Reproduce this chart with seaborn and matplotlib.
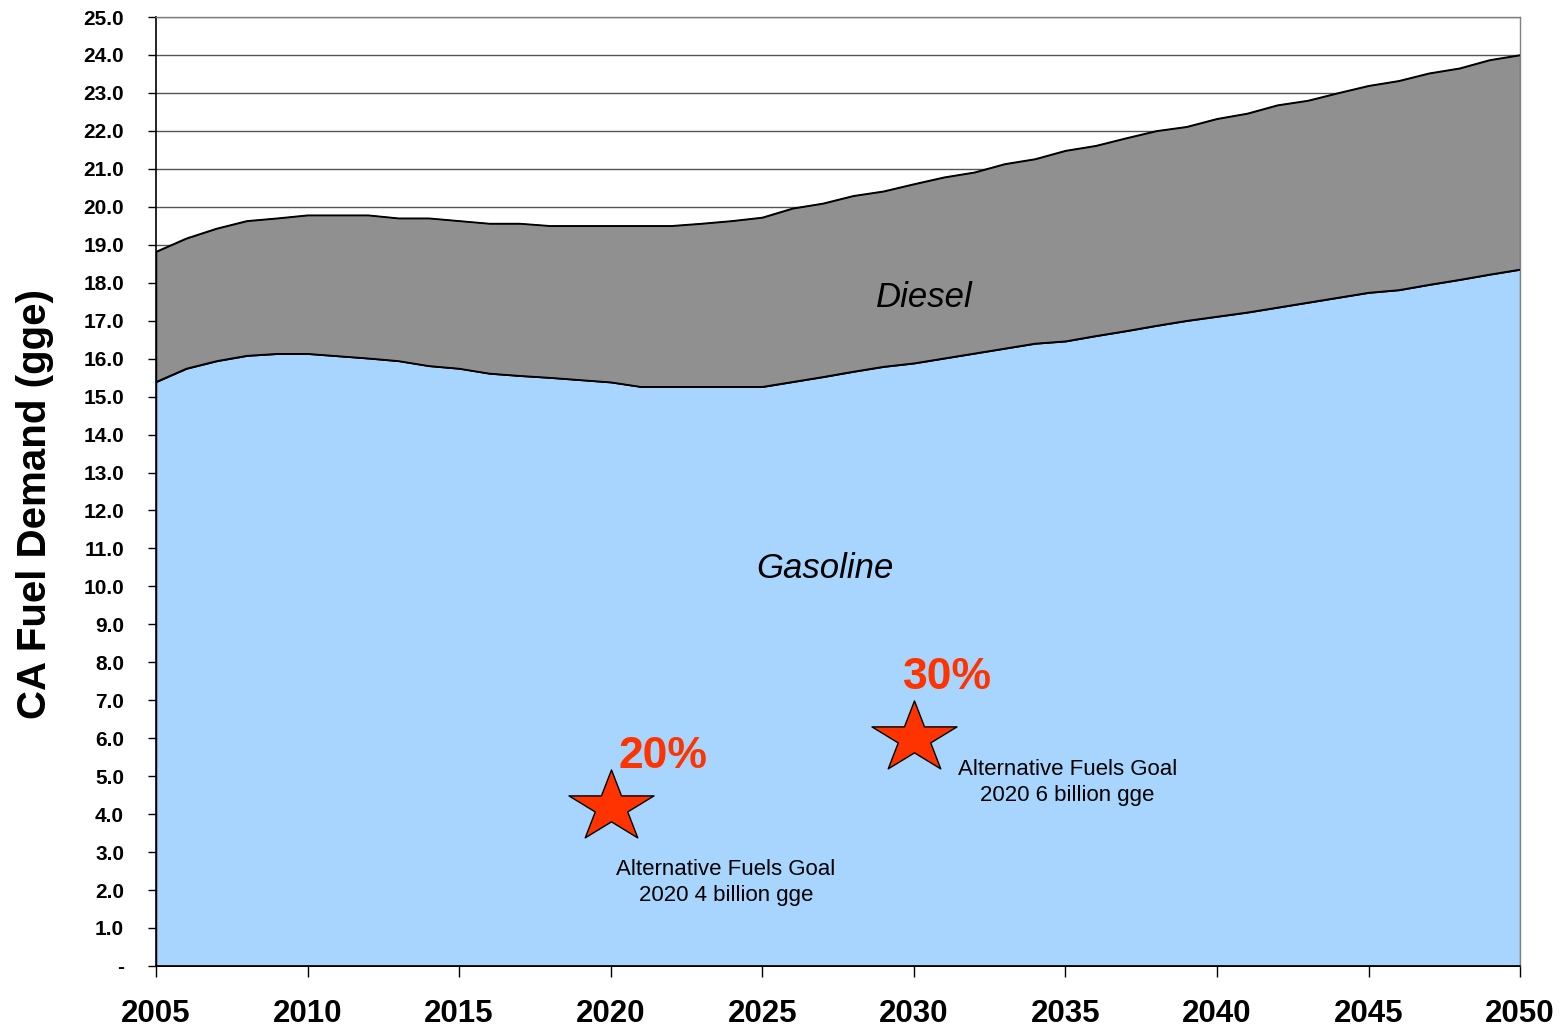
import matplotlib
matplotlib.use("Agg")
import numpy as np
import pandas as pd
import matplotlib.pyplot as plt
import seaborn as sns
from matplotlib.path import Path
from matplotlib.ticker import FuncFormatter, MultipleLocator

# Values (billion gge per year)
years = list(range(2005, 2051))
gasoline = [15.39, 15.74, 15.94, 16.08, 16.13, 16.13, 16.07, 16.01, 15.94, 15.81,
            15.74, 15.61, 15.55, 15.50, 15.44, 15.38, 15.26, 15.26, 15.26, 15.26,
            15.26, 15.39, 15.52, 15.66, 15.79, 15.88, 16.01, 16.14, 16.27, 16.40,
            16.46, 16.60, 16.73, 16.87, 17.00, 17.11, 17.22, 17.35, 17.48, 17.61,
            17.74, 17.81, 17.95, 18.08, 18.22, 18.35]
diesel = [3.43, 3.43, 3.49, 3.55, 3.57, 3.65, 3.71, 3.77, 3.76, 3.89,
          3.89, 3.95, 4.01, 4.00, 4.06, 4.12, 4.24, 4.24, 4.30, 4.37,
          4.46, 4.57, 4.57, 4.63, 4.62, 4.72, 4.77, 4.77, 4.86, 4.86,
          5.02, 5.01, 5.08, 5.13, 5.11, 5.21, 5.24, 5.33, 5.32, 5.39,
          5.45, 5.51, 5.57, 5.57, 5.65, 5.65]

goal_years = [2020, 2030]
goal_values = [4.2, 6.0]
goal_pcts = ["20%", "30%"]
goal_notes = ["Alternative Fuels Goal\n2020 4 billion gge",
              "Alternative Fuels Goal\n2020 6 billion gge"]

df = pd.DataFrame({"year": years, "Gasoline": gasoline, "Diesel": diesel})
df["total"] = df["Gasoline"] + df["Diesel"]
goals = pd.DataFrame({"year": goal_years, "value": goal_values})

sns.set_style("white")
plt.rcParams["font.family"] = ["Liberation Sans", "DejaVu Sans"]
plt.rcParams.update({"text.color": "black", "axes.labelcolor": "black",
                     "xtick.color": "black", "ytick.color": "black"})

fig = plt.figure(figsize=(15.62, 10.32), dpi=100)
ax = fig.add_axes([0.0999, 0.064, 0.8733, 0.9195])

# stacked areas
ax.fill_between(df["year"], 0, df["Gasoline"], facecolor="#A7D5FD",
                edgecolor="black", linewidth=1, zorder=2)
ax.fill_between(df["year"], df["Gasoline"], df["total"], facecolor="#909090",
                edgecolor="black", linewidth=1, zorder=2)
sns.lineplot(data=df, x="year", y="Gasoline", color="black", lw=1, ax=ax, zorder=3)
sns.lineplot(data=df, x="year", y="total", color="black", lw=1, ax=ax, zorder=3)

# star markers, a little wider than a regular star
star = Path.unit_regular_star(5, 0.381966)
star_verts = star.vertices * np.array([1.19, 1.0])
star_marker = Path(star_verts, star.codes)
sns.scatterplot(data=goals, x="year", y="value", marker=star_marker, s=3745,
                color="#FF3300", edgecolor="black", linewidth=1, ax=ax,
                zorder=5, legend=False)

ax.text(2030.34, 17.62, "Diesel", fontsize=25, style="italic",
        ha="center", va="center", zorder=6)
ax.text(2027.07, 10.48, "Gasoline", fontsize=25, style="italic",
        ha="center", va="center", zorder=6)

pct_pos = [(2021.73, 5.51), (2031.1, 7.59)]
note_pos = [(2023.8, 2.19), (2035.06, 4.83)]
for (px, py), pct in zip(pct_pos, goal_pcts):
    ax.text(px, py, pct, fontsize=32, fontweight="bold", color="#FF3300",
            ha="center", va="center", zorder=6)
for (nx, ny), note in zip(note_pos, goal_notes):
    ax.text(nx, ny, note, fontsize=16, ha="center", va="center",
            multialignment="center", linespacing=1.3, zorder=6)

ax.set_xlim(2005, 2050)
ax.set_ylim(0, 25)
ax.xaxis.set_major_locator(MultipleLocator(5))
ax.yaxis.set_major_locator(MultipleLocator(1))
ax.yaxis.set_major_formatter(FuncFormatter(lambda v, p: "-" if v == 0 else f"{v:.1f}"))

ax.set_axisbelow(True)
ax.yaxis.grid(True, color="#555555", linewidth=1)
ax.xaxis.grid(False)

ax.tick_params(axis="y", direction="out", length=6, width=1, pad=17,
               labelsize=15, left=True)
ax.tick_params(axis="x", direction="out", length=8, width=1, pad=16,
               labelsize=22.5, bottom=True)
plt.setp(ax.get_xticklabels(), fontweight="bold")
plt.setp(ax.get_yticklabels(), fontweight="bold")

ax.set_xlabel("")
ax.set_ylabel("CA Fuel Demand (gge)", fontsize=29, fontweight="bold")
ax.yaxis.set_label_coords(-0.075, 0.487)

for side in ["left", "bottom"]:
    ax.spines[side].set_color("black")
    ax.spines[side].set_linewidth(1.2)
for side in ["top", "right"]:
    ax.spines[side].set_color("#808080")
    ax.spines[side].set_linewidth(1)

fig.savefig("out.png", dpi=100)
